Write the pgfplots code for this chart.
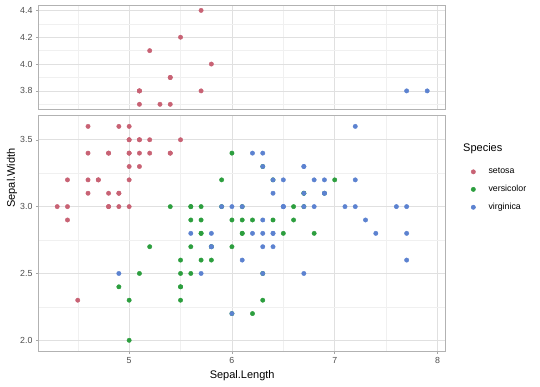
\documentclass[border=0pt]{standalone}
\usepackage{fontspec}
\setmainfont{Liberation Sans}
\usepackage{pgfplots}
\pgfplotsset{compat=1.18}
\usepackage{pgfplotstable}
\definecolor{cset}{RGB}{200,98,116}
\definecolor{cver}{RGB}{44,158,62}
\definecolor{cvir}{RGB}{92,130,208}

\pgfplotstableread{
x y
5.1 3.5
4.9 3.0
4.7 3.2
4.6 3.1
5.0 3.6
5.4 3.9
4.6 3.4
5.0 3.4
4.4 2.9
4.9 3.1
5.4 3.7
4.8 3.4
4.8 3.0
4.3 3.0
5.8 4.0
5.7 4.4
5.4 3.9
5.1 3.5
5.7 3.8
5.1 3.8
5.4 3.4
5.1 3.7
4.6 3.6
5.1 3.3
4.8 3.4
5.0 3.0
5.0 3.4
5.2 3.5
5.2 3.4
4.7 3.2
4.8 3.1
5.4 3.4
5.2 4.1
5.5 4.2
4.9 3.1
5.0 3.2
5.5 3.5
4.9 3.6
4.4 3.0
5.1 3.4
5.0 3.5
4.5 2.3
4.4 3.2
5.0 3.5
5.1 3.8
4.8 3.0
5.1 3.8
4.6 3.2
5.3 3.7
5.0 3.3
}\setosa

\pgfplotstableread{
x y
7.0 3.2
6.4 3.2
6.9 3.1
5.5 2.3
6.5 2.8
5.7 2.8
6.3 3.3
4.9 2.4
6.6 2.9
5.2 2.7
5.0 2.0
5.9 3.0
6.0 2.2
6.1 2.9
5.6 2.9
6.7 3.1
5.6 3.0
5.8 2.7
6.2 2.2
5.6 2.5
5.9 3.2
6.1 2.8
6.3 2.5
6.1 2.8
6.4 2.9
6.6 3.0
6.8 2.8
6.7 3.0
6.0 2.9
5.7 2.6
5.5 2.4
5.5 2.4
5.8 2.7
6.0 2.7
5.4 3.0
6.0 3.4
6.7 3.1
6.3 2.3
5.6 3.0
5.5 2.5
5.5 2.6
6.1 3.0
5.8 2.6
5.0 2.3
5.6 2.7
5.7 3.0
5.7 2.9
6.2 2.9
5.1 2.5
5.7 2.8
}\versicolor

\pgfplotstableread{
x y
6.3 3.3
5.8 2.7
7.1 3.0
6.3 2.9
6.5 3.0
7.6 3.0
4.9 2.5
7.3 2.9
6.7 2.5
7.2 3.6
6.5 3.2
6.4 2.7
6.8 3.0
5.7 2.5
5.8 2.8
6.4 3.2
6.5 3.0
7.7 3.8
7.7 2.6
6.0 2.2
6.9 3.2
5.6 2.8
7.7 2.8
6.3 2.7
6.7 3.3
7.2 3.2
6.2 2.8
6.1 3.0
6.4 2.8
7.2 3.0
7.4 2.8
7.9 3.8
6.4 2.8
6.3 2.8
6.1 2.6
7.7 3.0
6.3 3.4
6.4 3.1
6.0 3.0
6.9 3.1
6.7 3.1
6.9 3.1
5.8 2.7
6.8 3.2
6.7 3.3
6.7 3.0
6.3 2.5
6.5 3.0
6.2 3.4
5.9 3.0
}\virginica

\pgfplotsset{
 common/.style={
  scale only axis, width=407pt, xmin=4.12, xmax=8.08,
  xtick={5,6,7,8}, minor xtick={4.5,5.5,6.5,7.5},
  grid=both,
  major grid style={color=black!12, line width=0.55pt},
  minor grid style={color=black!6, line width=0.35pt},
  axis line style={color=black!30, line width=0.6pt},
  tick align=outside, major tick length=2.75pt, minor tick length=0pt,
  tick pos=left, tick style={color=black!35, line width=0.5pt},
  ticklabel style={font=\fontsize{8.8}{10}\selectfont, text=black!70},
  /pgf/number format/assume math mode=true,
  y tick label style={/pgf/number format/.cd, fixed, fixed zerofill, precision=1},
  every axis plot/.append style={only marks, mark=*, mark size=2.2pt},
 }
}

\begin{document}
\begin{tikzpicture}
\path[use as bounding box] (0,0) rectangle (540pt,386pt);

\begin{axis}[common,
  at={(38.7pt,277pt)}, anchor=south west, height=103.3pt,
  ymin=3.665, ymax=4.435,
  ytick={3.8,4.0,4.2,4.4}, minor ytick={3.7,3.9,4.1,4.3},
  xticklabels={}, xmajorticks=false,
  restrict y to domain=3.65:5]
\addplot[mark options={draw=cset, fill=cset}] table[x=x,y=y] {\setosa};
\addplot[mark options={draw=cver, fill=cver}] table[x=x,y=y] {\versicolor};
\addplot[mark options={draw=cvir, fill=cvir}] table[x=x,y=y] {\virginica};
\end{axis}

\begin{axis}[common,
  at={(38.7pt,35pt)}, anchor=south west, height=235.3pt,
  ymin=1.92, ymax=3.68,
  ytick={2.0,2.5,3.0,3.5}, minor ytick={2.25,2.75,3.25},
  restrict y to domain=0:3.65,
  xlabel={Sepal.Length},
  xlabel style={font=\fontsize{11}{13}\selectfont, text=black},
  legend cell align=left,
  legend style={at={(1.062,0.786)}, anchor=north west, draw=none, fill=none,
    font=\fontsize{8.8}{10}\selectfont, inner sep=0pt,
    row sep=6pt, column sep=11pt}]
\addplot[mark options={draw=cset, fill=cset}] table[x=x,y=y] {\setosa};
\addlegendentry{setosa}
\addplot[mark options={draw=cver, fill=cver}] table[x=x,y=y] {\versicolor};
\addlegendentry{versicolor}
\addplot[mark options={draw=cvir, fill=cvir}] table[x=x,y=y] {\virginica};
\addlegendentry{virginica}
\end{axis}

\node[rotate=90, font=\fontsize{11}{13}\selectfont] at (12pt,208pt) {Sepal.Width};
\node[anchor=west, font=\fontsize{11}{13}\selectfont, inner sep=0pt] at (463pt,237pt) {Species};
\end{tikzpicture}
\end{document}
